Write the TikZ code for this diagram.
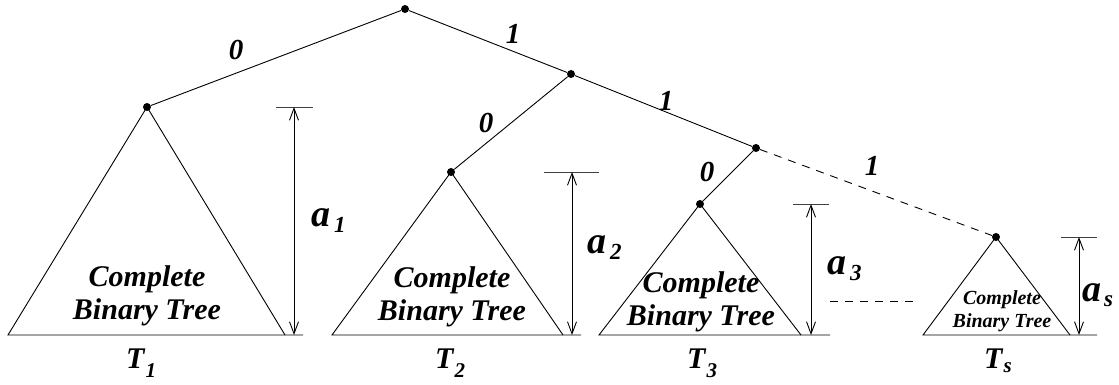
\documentclass[tikz,border=0pt]{standalone}
\usepackage{fontspec}
\setmainfont{Liberation Serif}
\usetikzlibrary{arrows.meta}
\begin{document}
\begin{tikzpicture}[x=1pt,y=-1pt,
  dot/.style={circle,fill,inner sep=0pt,minimum size=8pt},
  edge/.style={line width=0.9pt},
  dashedge/.style={line width=0.9pt,dash pattern=on 8pt off 7pt},
  tri/.style={line width=0.9pt,line join=miter},
  dimarrow/.style={line width=0.9pt,{Straight Barb[length=12pt,width=9pt]}-{Straight Barb[length=12pt,width=9pt]}},
  tickline/.style={line width=0.9pt,black!75},
  bitlbl/.style={font=\fontsize{29}{29}\selectfont\bfseries\itshape,inner sep=0pt},
  cbt/.style={font=\fontsize{30}{33}\selectfont\bfseries\itshape,align=center,inner sep=0pt},
  cbtsmall/.style={font=\fontsize{20}{23}\selectfont\bfseries\itshape,align=center,inner sep=0pt},
  dimlbl/.style={font=\bfseries\itshape,inner sep=0pt},
]
\useasboundingbox (0,0) rectangle (1119,385);
% tree nodes
\node[dot] (R) at (405,9) {};
\node[dot] (A) at (147,107) {};
\node[dot] (B) at (571,74) {};
\node[dot] (C) at (451,172) {};
\node[dot] (D) at (756,148) {};
\node[dot] (E) at (700,204) {};
\node[dot] (F) at (996,237) {};
% edges
\draw[edge] (R) -- (A);
\draw[edge] (R) -- (B);
\draw[edge] (B) -- (C);
\draw[edge] (B) -- (D);
\draw[edge] (D) -- (E);
\draw[dashedge] (D) -- (F);
% edge labels
\node[bitlbl] (l0a) at (236,50) {0};
\node[bitlbl] (l1a) at (513,34) {1};
\node[bitlbl] (l0b) at (486,123) {0};
\node[bitlbl] (l1b) at (666,101) {1};
\node[bitlbl] (l0c) at (707,172) {0};
\node[bitlbl] (l1c) at (872,166) {1};
% triangles
\draw[tri] (A.center) -- (8,335) -- (303,335);
\draw[tri] (A.center) -- (285,335);
\draw[tri] (C.center) -- (332,335) -- (581,335);
\draw[tri] (C.center) -- (563,335);
\draw[tri] (E.center) -- (599,335) -- (830,335);
\draw[tri] (E.center) -- (801,335);
\draw[tri] (F.center) -- (923,335) -- (1097,335);
\draw[tri] (F.center) -- (1070,335);
% tree texts
\node[cbt] (t1) at (147,296) {Complete\\Binary Tree};
\node[cbt] (t2) at (452,297) {Complete\\Binary Tree};
\node[cbt] (t3) at (701,302) {Complete\\Binary Tree};
\node[cbtsmall] (t4) at (1002,311) {Complete\\Binary Tree};
% dimension ticks
\draw[tickline] (276,107) -- (313,107);
\draw[tickline] (544,172) -- (599,172);
\draw[tickline] (793,204) -- (829,204);
\draw[tickline] (1061,237) -- (1097,237);
% dimension arrows
\coordinate (a1t) at (294,107); \coordinate (a1b) at (294,335);
\coordinate (a2t) at (572,172); \coordinate (a2b) at (572,335);
\coordinate (a3t) at (811,204); \coordinate (a3b) at (811,335);
\coordinate (ast) at (1079,237); \coordinate (asb) at (1079,335);
\draw[dimarrow] (a1t) -- (a1b);
\draw[dimarrow] (a2t) -- (a2b);
\draw[dimarrow] (a3t) -- (a3b);
\draw[dimarrow] (ast) -- (asb);
% dashed link between T3 and Ts
\coordinate (g1) at (830,301); \coordinate (g2) at (919,301);
\draw[dashedge] (g1) -- (g2);
% dimension labels
\node[dimlbl,anchor=base west] (la1) at (311,226) {\fontsize{38}{38}\selectfont a\kern4pt\raisebox{-6pt}{\fontsize{23}{23}\selectfont 1}};
\node[dimlbl,anchor=base west] (la2) at (587,253) {\fontsize{38}{38}\selectfont a\kern4pt\raisebox{-6pt}{\fontsize{23}{23}\selectfont 2}};
\node[dimlbl,anchor=base west] (la3) at (827,274) {\fontsize{38}{38}\selectfont a\kern4pt\raisebox{-6pt}{\fontsize{23}{23}\selectfont 3}};
\node[dimlbl,anchor=base west] (las) at (1082,301) {\fontsize{38}{38}\selectfont a\kern3pt\raisebox{-5pt}{\fontsize{23}{23}\selectfont s}};
% tree names
\node[dimlbl,anchor=base west] (T1) at (126,368) {\fontsize{30}{30}\selectfont T\kern1pt\raisebox{-9pt}{\fontsize{21}{21}\selectfont 1}};
\node[dimlbl,anchor=base west] (T2) at (435,368) {\fontsize{30}{30}\selectfont T\kern1pt\raisebox{-9pt}{\fontsize{21}{21}\selectfont 2}};
\node[dimlbl,anchor=base west] (T3) at (687,368) {\fontsize{30}{30}\selectfont T\kern1pt\raisebox{-9pt}{\fontsize{21}{21}\selectfont 3}};
\node[dimlbl,anchor=base west] (Ts) at (984,368) {\fontsize{30}{30}\selectfont T\kern1pt\raisebox{-4pt}{\fontsize{21}{21}\selectfont s}};
\end{tikzpicture}
\end{document}
